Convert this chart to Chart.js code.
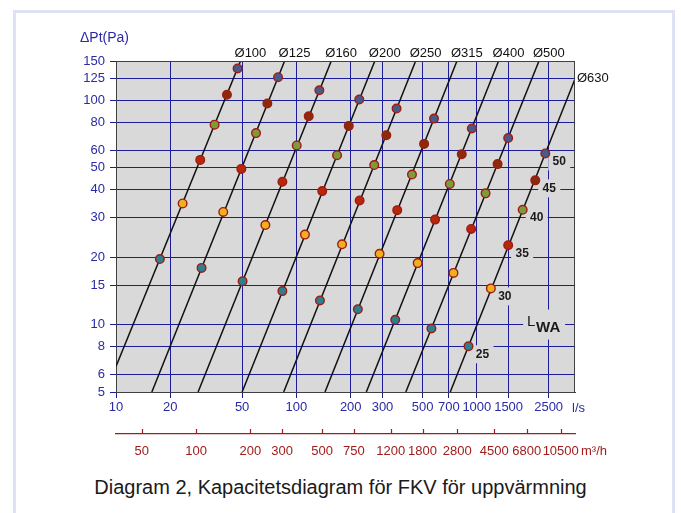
<!DOCTYPE html>
<html><head><meta charset="utf-8">
<script src="https://cdn.jsdelivr.net/npm/chart.js@4.4.1/dist/chart.umd.min.js"></script>
<style>
html,body{margin:0;padding:0;background:#fff;width:681px;height:513px;overflow:hidden;}
#frame{position:absolute;left:13px;top:10px;width:656px;height:530px;border:3px solid #dde3f5;}
#c{position:absolute;left:0;top:0;}
#cap{position:absolute;left:0;top:476px;width:681px;text-align:center;font:20px Arial,"Liberation Sans",sans-serif;color:#1a1a1a;}
</style></head><body>
<div id="frame"></div>
<canvas id="c" width="681" height="470"></canvas>
<div id="cap">Diagram 2, Kapacitetsdiagram för FKV för uppvärmning</div>
<script>
// ---- data ----
const diameters = ['Ø100','Ø125','Ø160','Ø200','Ø250','Ø315','Ø400','Ø500','Ø630'];
const lineStartFlow = [10, 15.8, 28.5, 50, 85, 144, 244, 404, 712];     // l/s
const lineStartPa   = [6.5, 5, 5, 5, 5, 5, 5, 5, 5];
const lineEndFlow   = [49, 86, 156, 272, 458, 776, 1320, 2210, 3500];
const lineEndPa     = [150, 150, 150, 150, 150, 150, 150, 150, 124.6];

const levels = [50, 45, 40, 35, 30, 25]; // LWA dB
const flow50 = [47.2, 79.1, 134, 223, 359, 579, 938, 1492, 2395];
const pa50   = [139, 127, 111, 101, 92, 83, 75, 68, 58];
const flow45 = [41.2, 69, 117, 195, 315, 510, 825, 1303, 2108];
const pa45   = [106, 97, 85, 77, 70, 64, 57.5, 52, 44];
const flow40 = [35.2, 59.7, 100.4, 168, 270, 437, 708, 1118, 1795];
const pa40   = [78, 71.5, 63, 57, 51.5, 46.7, 42.4, 38.5, 32.5];
const flow35 = [29.3, 49.5, 83.6, 139, 224, 362, 587, 930, 1492];
const pa35   = [54.3, 49.5, 43.4, 39.4, 35.8, 32.4, 29.4, 26.7, 22.6];
const flow30 = [23.4, 39.3, 67.3, 111.5, 179, 289, 470, 742, 1196];
const pa30   = [34.7, 31.8, 27.8, 25.2, 22.8, 20.7, 18.8, 17.0, 14.5];
const flow25 = [17.5, 29.8, 50.3, 83.6, 135, 219, 353, 560, 899];
const pa25   = [19.6, 17.9, 15.6, 14.1, 12.8, 11.7, 10.5, 9.6, 8.0];

const xTicks  = [10, 20, 50, 100, 200, 300, 500, 700, 1000, 1500, 2500];           // l/s
const x2Ticks = [50, 100, 200, 300, 500, 750, 1200, 1800, 2800, 4500, 6800, 10500]; // m3/h
const yTicks  = [5, 6, 8, 10, 15, 20, 30, 40, 50, 60, 80, 100, 125, 150];           // Pa

// ---- styling ----
const FONT = 'Arial, "Liberation Sans", sans-serif';
const BLUE_TXT = '#2a2aa6';
const GRID = '#1c1c9a';
const RED = '#a11c1c';
const FRAME = '#404040';
const PLOT_BG = '#d9d9d9';
const levelColors = ['#4a5987', '#8a2b0c', '#7f9a3b', '#b9260a', '#f0b01e', '#2b7f8e'];

const flows = [flow50, flow45, flow40, flow35, flow30, flow25];
const pas = [pa50, pa45, pa40, pa35, pa30, pa25];

const lineSets = diameters.map((d, i) => ({
  type: 'line', label: d,
  data: [{x: lineStartFlow[i], y: lineStartPa[i]}, {x: lineEndFlow[i], y: lineEndPa[i]}],
  borderColor: '#111', borderWidth: 1.5, pointRadius: 0, fill: false, order: 2
}));
const pointSets = levels.map((lv, k) => ({
  type: 'scatter', label: 'LWA ' + lv,
  data: flows[k].map((f, i) => ({x: f, y: pas[k][i]})),
  backgroundColor: levelColors[k], borderColor: '#9c1c12', borderWidth: 1.4,
  pointRadius: 4.3, order: 1
}));

const setTicks = arr => s => { s.ticks = arr.map(v => ({value: v})); };

const decor = {
  id: 'decor',
  beforeDraw(chart) {
    const {ctx, chartArea: a} = chart;
    ctx.save();
    ctx.fillStyle = PLOT_BG;
    ctx.fillRect(a.left, a.top, a.right - a.left, a.bottom - a.top);
    ctx.restore();
  },
  beforeDatasetsDraw(chart) {
    const {ctx, chartArea: a, scales: {x, y}} = chart;
    ctx.save();
    // LWA level labels next to the last diameter's points
    ctx.font = 'bold 12px ' + FONT;
    ctx.textAlign = 'center'; ctx.textBaseline = 'middle';
    const last = diameters.length - 1;
    levels.forEach((lv, k) => {
      const px = x.getPixelForValue(flows[k][last]) + 14;
      const py = y.getPixelForValue(pas[k][last]) + 8;
      ctx.fillStyle = PLOT_BG;
      ctx.fillRect(px - 11, py - 9, 22, 18);
      ctx.fillStyle = '#1a1a1a';
      ctx.fillText(String(lv), px, py);
    });
    // LWA caption
    const lx = x.getPixelForValue(2330), ly = y.getPixelForValue(10.1);
    ctx.fillStyle = PLOT_BG;
    ctx.fillRect(lx - 20, ly - 14, 42, 30);
    ctx.fillStyle = '#1a1a1a';
    ctx.textAlign = 'left'; ctx.textBaseline = 'alphabetic';
    ctx.font = '15px ' + FONT;
    ctx.fillText('L', lx - 16, ly + 2);
    ctx.font = 'bold 15px ' + FONT;
    ctx.fillText('WA', lx - 7, ly + 8);
    ctx.restore();
  },
  afterDraw(chart) {
    const {ctx, chartArea: a, scales: {x, y, x2}} = chart;
    ctx.save();
    // top and right frame
    ctx.strokeStyle = FRAME; ctx.lineWidth = 1;
    ctx.beginPath();
    ctx.moveTo(a.left, Math.round(a.top) + 0.5); ctx.lineTo(a.right, Math.round(a.top) + 0.5);
    ctx.moveTo(Math.round(a.right) - 0.5, a.top); ctx.lineTo(Math.round(a.right) - 0.5, a.bottom);
    ctx.stroke();
    // diameter labels
    ctx.fillStyle = '#111';
    ctx.font = '13px ' + FONT;
    ctx.textBaseline = 'middle'; ctx.textAlign = 'left';
    diameters.forEach((d, i) => {
      const px = x.getPixelForValue(lineEndFlow[i]);
      const py = y.getPixelForValue(lineEndPa[i]);
      if (lineEndPa[i] >= 150) ctx.fillText(d, px - 6, a.top - 8);
      else ctx.fillText(d, px + 2, py - 1);
    });
    // axis titles
    ctx.fillStyle = BLUE_TXT;
    ctx.fillText('l/s', 572, 408);
    ctx.font = '14px ' + FONT;
    ctx.fillText('ΔPt(Pa)', 80, 38);
    ctx.font = '13px ' + FONT;
    ctx.fillStyle = RED;
    ctx.fillText('m³/h', 581, 451);
    // red ticks pointing up
    ctx.strokeStyle = RED; ctx.lineWidth = 1.2;
    ctx.beginPath();
    x2Ticks.forEach(v => {
      const px = Math.round(x2.getPixelForValue(v)) + 0.5;
      ctx.moveTo(px, x2.top); ctx.lineTo(px, x2.top - 5);
    });
    ctx.stroke();
    ctx.restore();
  }
};

new Chart(document.getElementById('c'), {
  type: 'scatter',
  data: {datasets: [...pointSets, ...lineSets]},
  plugins: [decor],
  options: {
    responsive: false, animation: false, devicePixelRatio: 1,
    layout: {padding: {left: 0, right: 106, top: 61, bottom: 0}},
    plugins: {legend: {display: false}, tooltip: {enabled: false}},
    scales: {
      x: {
        type: 'logarithmic', position: 'bottom', min: 10, max: 3500, weight: 1,
        afterBuildTicks: setTicks(xTicks),
        afterFit: s => { s.height = 42; },
        ticks: {autoSkip: false, maxRotation: 0, minRotation: 0, padding: 2, color: BLUE_TXT,
                font: {size: 13, family: FONT}, callback: v => String(v)},
        grid: {color: c => (c.tick && c.tick.value === 10) ? 'rgba(0,0,0,0)' : GRID,
               tickColor: GRID, tickLength: 6, lineWidth: 1},
        border: {color: FRAME, width: 1}
      },
      x2: {
        type: 'logarithmic', position: 'bottom', min: 36, max: 12600, weight: 2,
        afterBuildTicks: setTicks(x2Ticks),
        afterFit: s => { s.height = 36; },
        ticks: {autoSkip: false, maxRotation: 0, minRotation: 0, padding: 2, color: RED,
                font: {size: 13, family: FONT}, callback: v => String(v)},
        grid: {display: false},
        border: {color: RED, width: 1.2}
      },
      y: {
        type: 'logarithmic', position: 'left', min: 5, max: 150,
        afterBuildTicks: setTicks(yTicks),
        afterFit: s => { s.width = 116; },
        ticks: {autoSkip: false, padding: 5, color: BLUE_TXT,
                font: {size: 13, family: FONT}, callback: v => String(v)},
        grid: {color: c => (c.tick && (c.tick.value === 5 || c.tick.value === 150)) ? 'rgba(0,0,0,0)' : GRID,
               tickColor: GRID, tickLength: 6, lineWidth: 1},
        border: {color: FRAME, width: 1}
      }
    }
  }
});
</script>
</body></html>
